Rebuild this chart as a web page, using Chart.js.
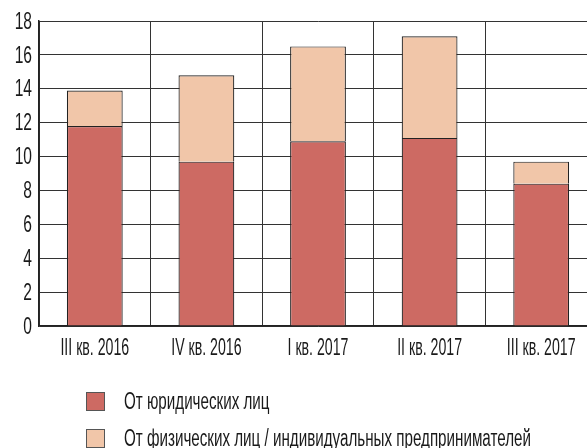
<!DOCTYPE html>
<html>
<head>
<meta charset="utf-8">
<script src="https://cdn.jsdelivr.net/npm/chart.js@4"></script>
<style>
  html, body { margin: 0; padding: 0; background: #fff; overflow: hidden; }
  #wrap { position: relative; width: 598px; height: 448px; }
  #legend { position: absolute; left: 86px; top: 392px; font-family: "Liberation Sans", sans-serif; font-size: 23px; color: #1a1a1a; white-space: nowrap; }
  .item { display: flex; align-items: center; height: 19px; margin-bottom: 18px; }
  .box { flex: none; width: 17px; height: 17px; border: 1px solid #555; margin-right: 19px; }
  .txt { display: inline-block; transform: scaleX(0.66); transform-origin: left center; }
</style>
</head>
<body>
<div id="wrap">
  <canvas id="chart" width="598" height="448"></canvas>
  <div id="legend"></div>
</div>
<script>
// quarters
const labels = ["III кв. 2016", "IV кв. 2016", "I кв. 2017", "II кв. 2017", "III кв. 2017"];
// legal entities (bottom part)
const legalValues = [11.8, 9.7, 10.9, 11.1, 8.4];
// individuals / sole proprietors (top part)
const individualValues = [2.1, 5.1, 5.6, 6.0, 1.3];
const yTicks = [0, 2, 4, 6, 8, 10, 12, 14, 16, 18];

const FONT = "24px 'Liberation Sans', sans-serif";
const SQUEEZE = 0.59; // the original uses a very narrow typeface

const datasets = [
  {
    label: "От юридических лиц",
    data: legalValues,
    backgroundColor: "#cd6a63",
    borderColor: "#222",
    borderWidth: 1.2,
  },
  {
    label: "От физических лиц / индивидуальных предпринимателей",
    data: individualValues,
    backgroundColor: "#f1c6a9",
    borderColor: "#222",
    borderWidth: 1.2,
  },
];

// draws the tick labels of both axes in a horizontally squeezed font
const narrowTicks = {
  id: "narrowTicks",
  afterDraw(chart) {
    const ctx = chart.ctx;
    const x = chart.scales.x;
    const y = chart.scales.y;
    ctx.save();
    ctx.font = FONT;
    ctx.fillStyle = "#1a1a1a";
    ctx.textBaseline = "middle";

    ctx.textAlign = "center";
    x.ticks.forEach((t, i) => {
      const px = x.getPixelForTick(i);
      ctx.save();
      ctx.translate(px, x.top + 22);
      ctx.scale(SQUEEZE, 1);
      ctx.fillText(x.getLabelForValue(t.value), 0, 0);
      ctx.restore();
    });

    ctx.textAlign = "right";
    y.ticks.forEach((t) => {
      const py = y.getPixelForValue(t.value);
      ctx.save();
      ctx.translate(y.right - 7, py + 1);
      ctx.scale(SQUEEZE * 1.1, 1);
      ctx.fillText(String(t.value), 0, 0);
      ctx.restore();
    });
    ctx.restore();
  },
};

new Chart(document.getElementById("chart"), {
  type: "bar",
  data: { labels: labels, datasets: datasets },
  plugins: [narrowTicks],
  options: {
    responsive: false,
    animation: false,
    barPercentage: 0.5,
    categoryPercentage: 1,
    layout: { padding: { top: 21, left: 0, right: 1, bottom: 0 } },
    plugins: {
      legend: { display: false },
      tooltip: { enabled: false },
    },
    scales: {
      x: {
        stacked: true,
        grid: { color: "#333", lineWidth: 1, offset: true, drawTicks: false },
        border: { color: "#222", width: 1.5 },
        ticks: { display: false },
        afterFit: (scale) => { scale.height = 122; },
      },
      y: {
        stacked: true,
        min: 0,
        max: 18,
        afterBuildTicks: (scale) => { scale.ticks = yTicks.map((v) => ({ value: v })); },
        grid: { color: "#333", lineWidth: 1, drawTicks: false },
        border: { color: "#222", width: 1.5 },
        ticks: { display: false },
        afterFit: (scale) => { scale.width = 39; },
      },
    },
  },
});

// legend under the chart
const legendEl = document.getElementById("legend");
datasets.forEach((ds) => {
  const item = document.createElement("div");
  item.className = "item";
  item.innerHTML = `<span class="box" style="background:${ds.backgroundColor}"></span><span class="txt">${ds.label}</span>`;
  legendEl.appendChild(item);
});
</script>
</body>
</html>
